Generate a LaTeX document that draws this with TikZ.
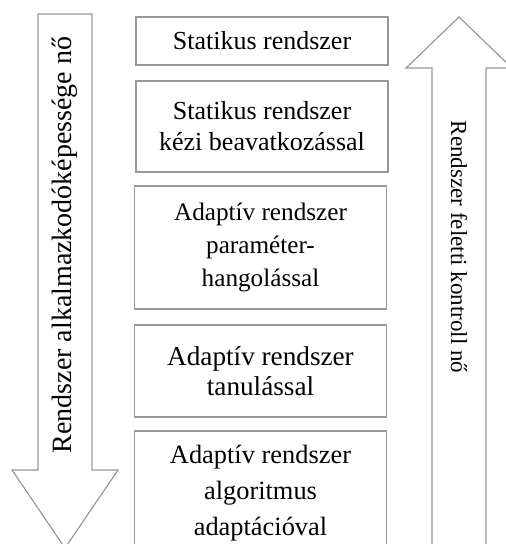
\documentclass[tikz,border=0pt]{standalone}
\usepackage{fontspec}
\setmainfont{Liberation Serif}
\begin{document}
\begin{tikzpicture}[x=0.5pt,y=-0.5pt,
    lvl/.style={draw=gray!80, line width=0.6pt, align=center, inner sep=0pt,
      minimum width=126pt, font=\fontsize{13}{15.5}\selectfont},
    bigarrow/.style={draw=gray!80, line width=0.6pt, fill=white}]
  \clip (0,0) rectangle (506,544);

  % Left arrow (downwards)
  \draw[bigarrow] (38,14) -- (92,14) -- (92,470) -- (118,470) -- (65,548)
    -- (12,470) -- (38,470) -- cycle;
  \node[rotate=90, font=\fontsize{14}{15}\selectfont] (adapt) at (65,245)
    {Rendszer alkalmazkodóképessége nő};

  % Right arrow (upwards)
  \draw[bigarrow] (432,550) -- (432,68) -- (406,68) -- (459,17) -- (512,68)
    -- (486,68) -- (486,550);
  \node[rotate=-90, font=\fontsize{11.5}{15}\selectfont] (control) at (459,247)
    {Rendszer feletti kontroll nő};

  % Levels
  \node[lvl, minimum height=24pt] (static) at (262,41) {Statikus rendszer};
  \node[lvl, minimum height=45.5pt] (manual) at (262,126.5)
    {Statikus rendszer\\kézi beavatkozással};
  \node[lvl, minimum height=61.5pt, font=\fontsize{12.6}{16.5}\selectfont] (param) at (260.5,247.5)
    {Adaptív rendszer\\paraméter-\\hangolással};
  \node[lvl, minimum height=46pt, font=\fontsize{13.6}{15}\selectfont] (learn) at (260.5,371)
    {Adaptív rendszer\\tanulással};
  \node[lvl, minimum height=62pt, font=\fontsize{13.2}{18}\selectfont] (algo) at (260.5,493)
    {Adaptív rendszer\\algoritmus\\adaptációval};
\end{tikzpicture}
\end{document}
